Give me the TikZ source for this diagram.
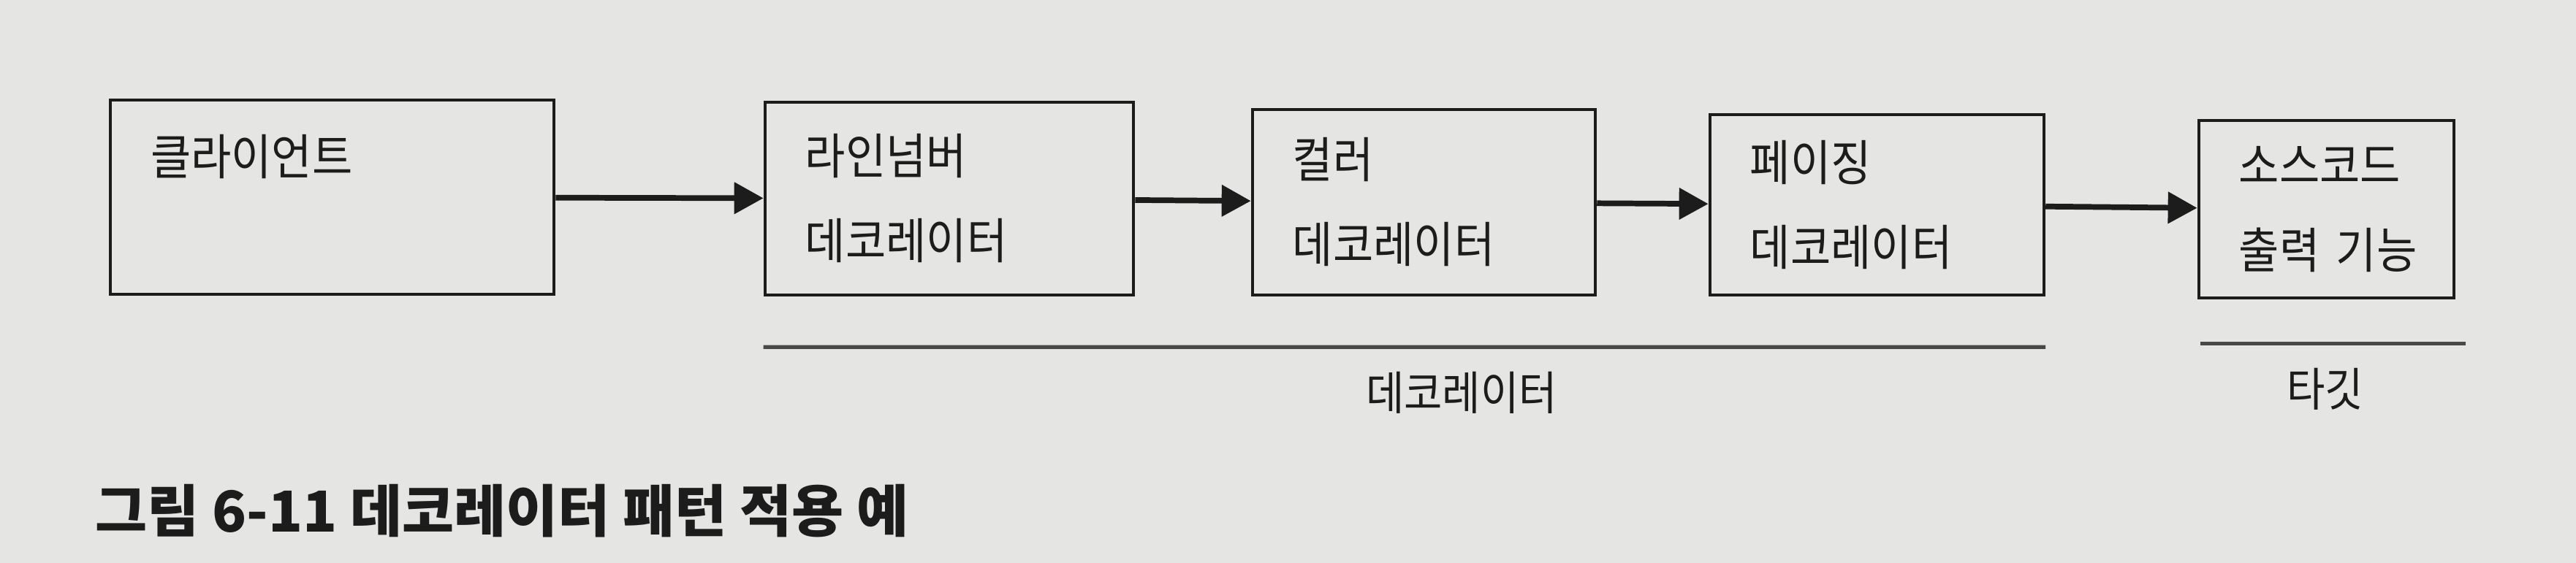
\documentclass[tikz,border=0pt]{standalone}
\usepackage{fontspec}
\setmainfont{Noto Sans CJK KR}
\newfontfamily\diagcjk{Noto Sans CJK KR}[FakeStretch=0.9]
\usetikzlibrary{positioning,arrows.meta}
\definecolor{paper}{RGB}{229,229,227}
\definecolor{ink}{RGB}{28,28,28}
\definecolor{rulegray}{RGB}{72,72,72}
\newcommand{\diagfont}{\diagcjk\fontsize{19}{33}\selectfont}
\newcommand{\labelfont}{\diagcjk\fontsize{18}{22}\selectfont}
\newcommand{\capfont}{\fontsize{22}{26}\selectfont\bfseries}
\tikzset{
    box/.style={draw=ink, text=ink, line width=1.3pt, align=left, inner xsep=0.55cm, font=\diagfont},
    flow/.style={draw=ink, line width=2.2pt, -{Triangle[length=4mm,width=4.2mm]}},
    bar/.style={draw=rulegray, line width=1.5pt},
    barlabel/.style={text=ink, font=\labelfont},
}

\begin{document}
\begin{tikzpicture}
    \fill[paper] (0,0) rectangle (35.25,-7.71);
    \useasboundingbox (0,0) rectangle (35.25,-7.71);
    %% Boxes
    \node[box, text width=4.97cm, minimum height=2.66cm] (client) at (4.545,-2.70) {클라이언트\\\mbox{}};
    \node[box, text width=3.94cm, minimum height=2.64cm, right=2.844cm of client, yshift=-0.02cm] (linenum) {라인넘버\\데코레이터};
    \node[box, text width=3.59cm, minimum height=2.54cm, right=1.584cm of linenum, yshift=-0.05cm] (color) {컬러\\데코레이터};
    \node[box, text width=3.47cm, minimum height=2.47cm, right=1.524cm of color, yshift=-0.035cm] (paging) {페이징\\데코레이터};
    \node[box, text width=2.39cm, minimum height=2.43cm, right=2.074cm of paging, yshift=-0.06cm] (source) {소스코드\\\mbox{출력 기능}};
    %% Arrows
    \draw[flow] (client) -- (linenum);
    \draw[flow] (linenum) -- (color);
    \draw[flow] (color) -- (paging);
    \draw[flow] (paging) -- (source);
    %% Groups below
    \draw[bar] ([yshift=-0.69cm]linenum.south west) -- node[barlabel, below=0.2cm, xshift=0.78cm] (declabel) {데코레이터} ([yshift=-0.69cm]paging.south east);
    \draw[bar] ([xshift=0.04cm,yshift=-0.6cm]source.south west) -- node[barlabel, below=0.2cm, xshift=-0.11cm] (tgtlabel) {타깃} ([xshift=0.14cm,yshift=-0.6cm]source.south east);
    %% Caption
    \node[anchor=west, inner sep=0pt, text=ink, font=\capfont] (caption) at (1.3,-7.0) {그림 6-11 데코레이터 패턴 적용 예};
\end{tikzpicture}
\end{document}
